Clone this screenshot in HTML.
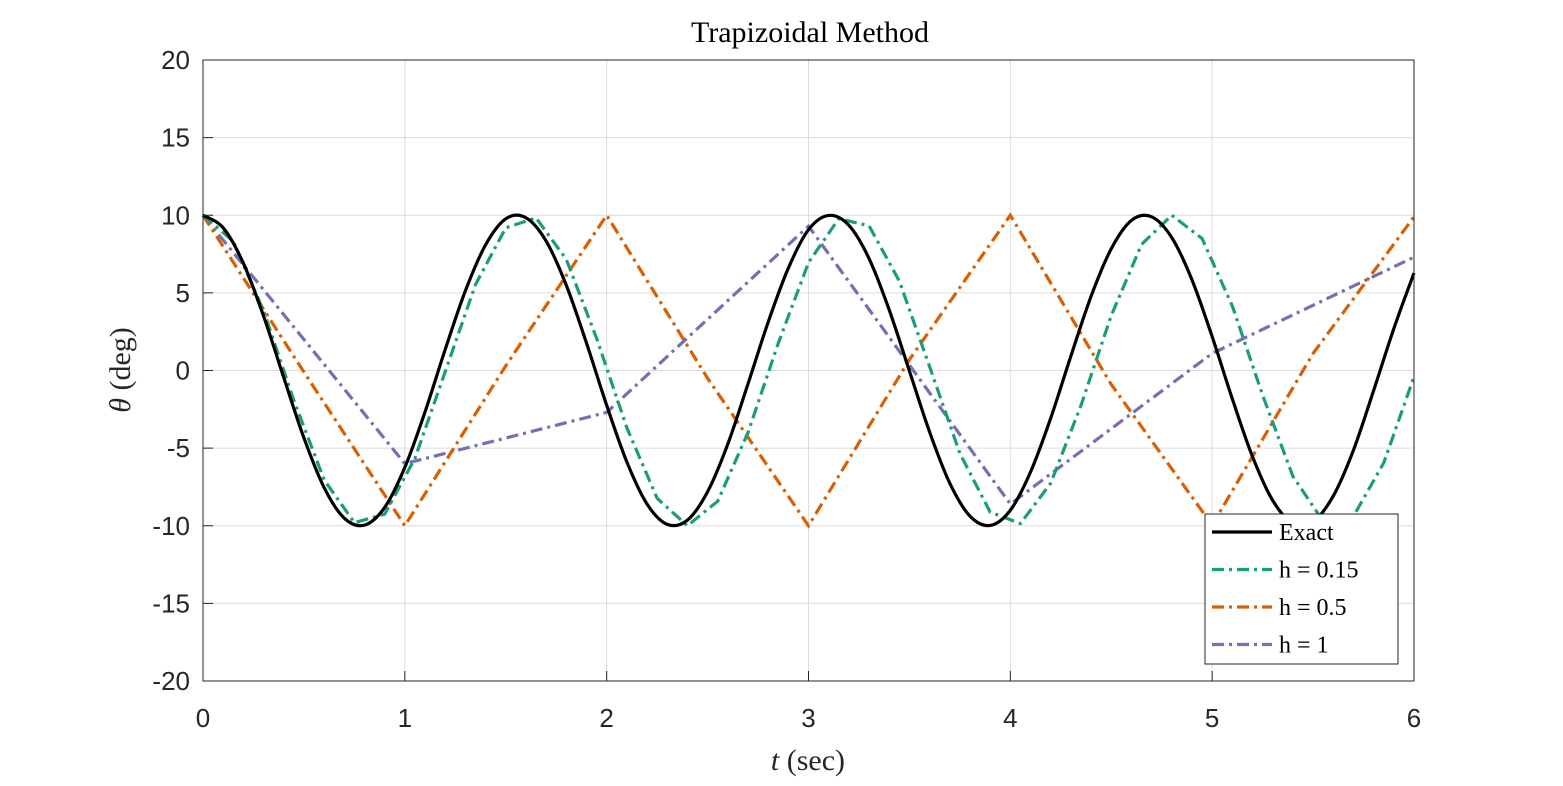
<!DOCTYPE html>
<html><head><meta charset="utf-8"><style>
html,body{margin:0;padding:0;background:#fff;}
svg text{font-family:"Liberation Sans",sans-serif;}
</style></head><body>
<svg id="chart" width="1563" height="781" viewBox="0 0 1563 781" xmlns="http://www.w3.org/2000/svg">
<rect width="1563" height="781" fill="#fff"/>
<g id="grid"></g>
<g id="series"></g>
<rect x="203" y="60" width="1211" height="621" fill="none" stroke="#262626" stroke-width="1"/>
<g id="ticks"></g>
<text x="810" y="42" font-size="30" text-anchor="middle" fill="#000" style="font-family:'Liberation Serif',serif">Trapizoidal Method</text>
<text x="808" y="770" font-size="30" text-anchor="middle" fill="#262626" style="font-family:'Liberation Serif',serif"><tspan font-style="italic">t</tspan> (sec)</text>
<text transform="translate(130,370) rotate(-90)" font-size="30" text-anchor="middle" fill="#262626" style="font-family:'Liberation Serif',serif"><tspan font-style="italic">θ</tspan> (deg)</text>
<g id="legend"></g>
</svg>
<script>
const xTicks=[0,1,2,3,4,5,6];
const yTicks=[-20,-15,-10,-5,0,5,10,15,20];
const exactStep=0.1;
const exactVals=[10,9.19,6.91,3.51,-0.45,-4.34,-7.54,-9.51,-9.96,-8.82,-6.24,-2.67,1.35,5.13,8.09,9.77,9.84,8.34,5.49,1.77,-2.24,-5.89,-8.60,-9.91,-9.64,-7.81,-4.75,-0.87,3.11,6.59,9.07,9.99,9.35,7.21,3.90,-0.03,-3.96,-7.26,-9.38,-9.98,-9.00,-6.54,-3.07,0.93,4.78,7.84,9.67,9.90,8.56,5.84,2.18,-1.83,-5.55,-8.37,-9.84,-9.74,-8.08,-5.13,-1.29,2.70,6.28];
const h015Step=0.15;
const h015Vals=[10,8.32,3.85,-1.92,-7.04,-9.80,-9.25,-5.66,-0.08,5.53,9.19,9.83,7.16,2.08,-3.69,-8.23,-10.0,-8.42,-4.01,1.75,6.95,9.78,9.32,5.76,0.25,-5.34,-9.12,-9.86,-7.26,-2.25,3.54,8.12,10,8.50,4.15,-1.59,-6.81,-9.72,-9.39,-5.95,-0.41];
const h05Step=0.5;
const h05Vals=[10,-0.1,-10,0.3,10,-0.5,-10,0.7,10,-0.9,-9.96,1.1,9.9];
const h1Step=1;
const h1Vals=[10,-6.0,-2.7,9.3,-8.6,1.1,7.3];
const legendLabels=["Exact","h = 0.15","h = 0.5","h = 1"];

const X0=203,X1=1414,Y0=681,Y1=60;
const xs=t=>X0+(t-0)/(6-0)*(X1-X0);
const ys=v=>Y0-(v+20)/40*(Y0-Y1);
const NS="http://www.w3.org/2000/svg";
function mk(tag,attrs,parent){const e=document.createElementNS(NS,tag);for(const k in attrs)e.setAttribute(k,attrs[k]);parent.appendChild(e);return e;}
const grid=document.getElementById('grid'),ticks=document.getElementById('ticks'),series=document.getElementById('series'),legend=document.getElementById('legend');
xTicks.forEach(t=>{
  const l=mk('line',{x1:xs(t),x2:xs(t),y1:Y1,y2:Y0,stroke:'#dcdcdc','stroke-width':1},grid);
  
  
  const tk=mk('line',{x1:xs(t),x2:xs(t),y1:Y0,y2:Y0-10,stroke:'#262626','stroke-width':1},ticks);
  
  
  const tx=mk('text',{x:xs(t),y:727,'font-size':26,'text-anchor':'middle',fill:'#262626'},ticks);
  tx.textContent=t;
  
  
});
yTicks.forEach(v=>{
  const l=mk('line',{x1:X0,x2:X1,y1:ys(v),y2:ys(v),stroke:'#dcdcdc','stroke-width':1},grid);
  
  
  const tk=mk('line',{x1:X0,x2:X0+10,y1:ys(v),y2:ys(v),stroke:'#262626','stroke-width':1},ticks);
  
  
  const tx=mk('text',{x:190,y:ys(v)+9,'font-size':26,'text-anchor':'end',fill:'#262626'},ticks);
  tx.textContent=v;
  
  
});
function pts(vals,step){return vals.map((v,i)=>[xs(i*step),ys(v)]);}
function smooth(p){let d=`M${p[0][0]},${p[0][1]}`;for(let i=0;i<p.length-1;i++){const a=p[Math.max(0,i-1)],b=p[i],c=p[i+1],e=p[Math.min(p.length-1,i+2)];d+=` C${b[0]+(c[0]-a[0])/6},${b[1]+(c[1]-a[1])/6} ${c[0]-(e[0]-b[0])/6},${c[1]-(e[1]-b[1])/6} ${c[0]},${c[1]}`;}return d;}
function poly(p){return 'M'+p.map(q=>q.join(',')).join(' L');}
const styles=[
 {name:'exact-line',color:'#000000',dash:'none',d:smooth(pts(exactVals,exactStep))},
 {name:'h-0.15-line',color:'#1b9e77',dash:'12,5,3,5',d:poly(pts(h015Vals,h015Step))},
 {name:'h-0.5-line',color:'#d95f02',dash:'12,5,3,5',d:poly(pts(h05Vals,h05Step))},
 {name:'h-1-line',color:'#7570b3',dash:'12,5,3,5',d:poly(pts(h1Vals,h1Step))}
];
[3,2,1,0].forEach(i=>{const s=styles[i];
  const p=mk('path',{d:s.d,fill:'none',stroke:s.color,'stroke-width':3.2,'stroke-dasharray':s.dash},series);
  
  
});
const box=mk('rect',{x:1205,y:514,width:193,height:150,fill:'#fff',stroke:'#262626','stroke-width':1},legend);


legendLabels.forEach((lab,i)=>{const y=532+i*37.5;const s=styles[i];
  const l=mk('line',{x1:1212,x2:1272,y1:y,y2:y,stroke:s.color,'stroke-width':3.2,'stroke-dasharray':s.dash},legend);
  
  
  const t=mk('text',{x:1279,y:y+8,'font-size':24,fill:'#000',style:"font-family:'Liberation Serif',serif"},legend);
  t.textContent=lab;
  
  
});
</script>
</body></html>
